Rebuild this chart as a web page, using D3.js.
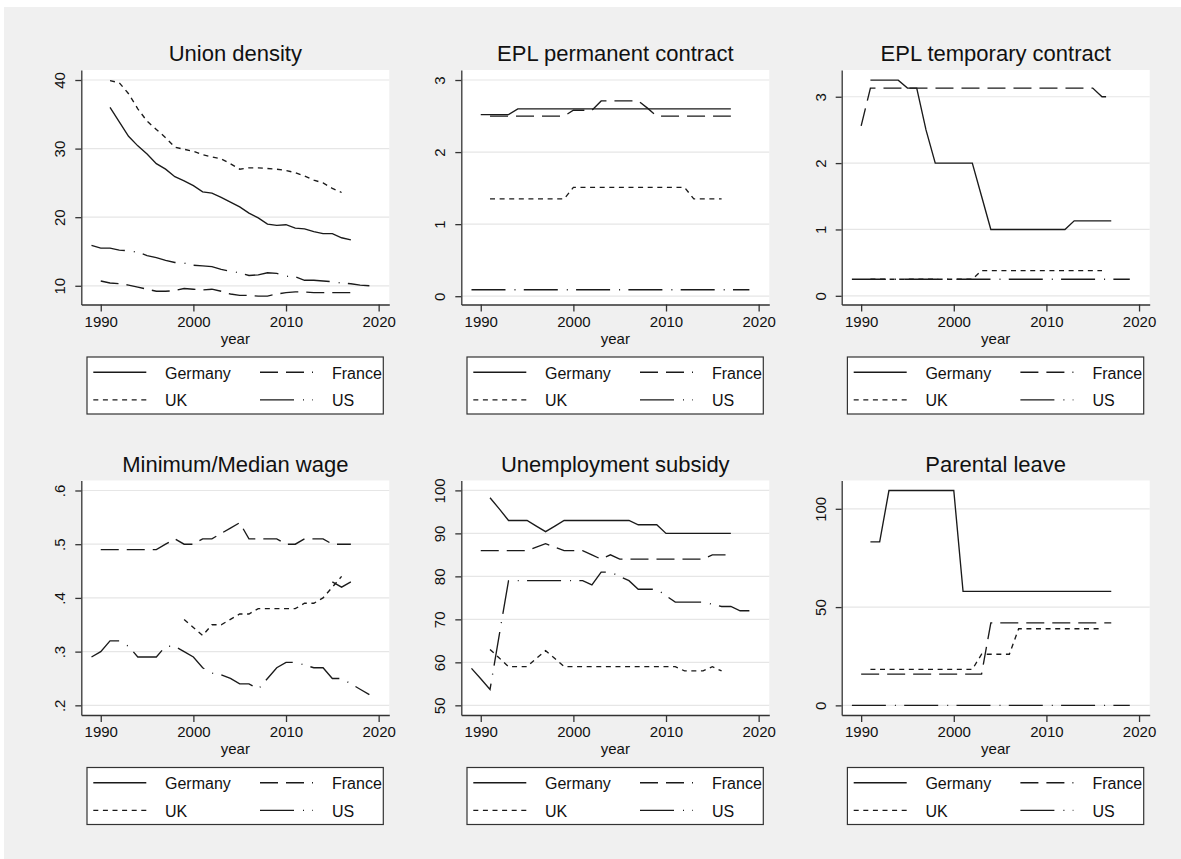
<!DOCTYPE html>
<html>
<head>
<meta charset="utf-8">
<script src="https://cdn.jsdelivr.net/npm/d3@7"></script>
<style>
  body { margin: 0; background: #fff; }
  svg { display: block; font-family: Arial, "Liberation Sans", Helvetica, sans-serif; }
</style>
</head>
<body>
<svg id="chart" width="1181" height="859"></svg>
<script>
// ---- data -------------------------------------------------------------
const countries = ["Germany", "France", "UK", "US"];
const xTicks = [1990, 2000, 2010, 2020];

// Union density (%)
const unionGermany = [36.0, 33.9, 31.8, 30.4, 29.2, 27.8, 27.0, 25.9, 25.3, 24.6, 23.7, 23.5, 22.9, 22.2, 21.5, 20.6, 19.9, 19.0, 18.8, 18.9, 18.4, 18.3, 17.9, 17.6, 17.6, 17.0, 16.7]; // 1991-2017
const unionFrance = [10.7, 10.4, 10.3, 10.1, 9.8, 9.5, 9.2, 9.2, 9.3, 9.6, 9.5, 9.4, 9.5, 9.2, 8.8, 8.6, 8.6, 8.5, 8.5, 8.8, 9.0, 9.1, 9.1, 9.0, 9.0, 9.0, 9.0, 9.0]; // 1990-2017
const unionUK = [39.9, 39.6, 38.0, 35.8, 34.0, 32.8, 31.6, 30.2, 29.9, 29.6, 29.1, 28.8, 28.5, 27.8, 27.0, 27.2, 27.2, 27.1, 27.0, 26.8, 26.5, 26.0, 25.4, 25.0, 24.2, 23.6]; // 1991-2016
const unionUS = [15.9, 15.5, 15.5, 15.2, 15.1, 14.9, 14.4, 14.1, 13.7, 13.4, 13.3, 13.0, 12.9, 12.8, 12.4, 12.1, 11.9, 11.5, 11.6, 11.9, 11.8, 11.4, 11.3, 10.8, 10.8, 10.7, 10.6, 10.4, 10.3, 10.1, 10.0]; // 1989-2019

// EPL permanent contract
const eplPermGermany = [2.52, 2.52, 2.52, 2.52, 2.60, 2.60, 2.60, 2.60, 2.60, 2.60, 2.60, 2.60, 2.60, 2.60, 2.60, 2.60, 2.60, 2.60, 2.60, 2.60, 2.60, 2.60, 2.60, 2.60, 2.60, 2.60, 2.60, 2.60]; // 1990-2017
const eplPermFrance = [2.50, 2.50, 2.50, 2.50, 2.50, 2.50, 2.50, 2.50, 2.50, 2.58, 2.58, 2.58, 2.71, 2.71, 2.71, 2.71, 2.71, 2.61, 2.50, 2.50, 2.50, 2.50, 2.50, 2.50, 2.50, 2.50, 2.50]; // 1991-2017
const eplPermUK = [1.35, 1.35, 1.35, 1.35, 1.35, 1.35, 1.35, 1.35, 1.35, 1.51, 1.51, 1.51, 1.51, 1.51, 1.51, 1.51, 1.51, 1.51, 1.51, 1.51, 1.51, 1.51, 1.35, 1.35, 1.35, 1.35]; // 1991-2016
const eplPermUS = [0.09, 0.09, 0.09, 0.09, 0.09, 0.09, 0.09, 0.09, 0.09, 0.09, 0.09, 0.09, 0.09, 0.09, 0.09, 0.09, 0.09, 0.09, 0.09, 0.09, 0.09, 0.09, 0.09, 0.09, 0.09, 0.09, 0.09, 0.09, 0.09, 0.09, 0.09]; // 1989-2019

// EPL temporary contract
const eplTempGermany = [3.25, 3.25, 3.25, 3.25, 3.13, 3.13, 2.50, 2.00, 2.00, 2.00, 2.00, 2.00, 1.50, 1.00, 1.00, 1.00, 1.00, 1.00, 1.00, 1.00, 1.00, 1.00, 1.13, 1.13, 1.13, 1.13, 1.13]; // 1991-2017
const eplTempFrance = [2.56, 3.13, 3.13, 3.13, 3.13, 3.13, 3.13, 3.13, 3.13, 3.13, 3.13, 3.13, 3.13, 3.13, 3.13, 3.13, 3.13, 3.13, 3.13, 3.13, 3.13, 3.13, 3.13, 3.13, 3.13, 3.13, 3.00, 3.00]; // 1990-2017
const eplTempUK = [0.25, 0.25, 0.25, 0.25, 0.25, 0.25, 0.25, 0.25, 0.25, 0.25, 0.25, 0.25, 0.38, 0.38, 0.38, 0.38, 0.38, 0.38, 0.38, 0.38, 0.38, 0.38, 0.38, 0.38, 0.38, 0.38]; // 1991-2016
const eplTempUS = [0.25, 0.25, 0.25, 0.25, 0.25, 0.25, 0.25, 0.25, 0.25, 0.25, 0.25, 0.25, 0.25, 0.25, 0.25, 0.25, 0.25, 0.25, 0.25, 0.25, 0.25, 0.25, 0.25, 0.25, 0.25, 0.25, 0.25, 0.25, 0.25, 0.25, 0.25]; // 1989-2019

// Minimum / median wage
const minWageGermany = [0.43, 0.42, 0.43]; // 2015-2017
const minWageFrance = [0.49, 0.49, 0.49, 0.49, 0.49, 0.49, 0.49, 0.50, 0.51, 0.50, 0.50, 0.51, 0.51, 0.52, 0.53, 0.54, 0.51, 0.51, 0.51, 0.51, 0.50, 0.50, 0.51, 0.51, 0.51, 0.50, 0.50, 0.50]; // 1990-2017
const minWageUK = [0.36, 0.345, 0.33, 0.35, 0.35, 0.36, 0.37, 0.37, 0.38, 0.38, 0.38, 0.38, 0.38, 0.39, 0.39, 0.40, 0.42, 0.44]; // 1999-2016
const minWageUS = [0.29, 0.30, 0.32, 0.32, 0.31, 0.29, 0.29, 0.29, 0.31, 0.31, 0.30, 0.29, 0.27, 0.26, 0.257, 0.25, 0.24, 0.24, 0.23, 0.25, 0.27, 0.28, 0.28, 0.275, 0.27, 0.27, 0.25, 0.25, 0.24, 0.23, 0.22]; // 1989-2019

// Unemployment subsidy (net replacement rate)
const unempGermany = [98.3, 95.7, 93.0, 93.0, 93.0, 91.7, 90.4, 91.7, 93.0, 93.0, 93.0, 93.0, 93.0, 93.0, 93.0, 93.0, 92.0, 92.0, 92.0, 90.0, 90.0, 90.0, 90.0, 90.0, 90.0, 90.0, 90.0]; // 1991-2017
const unempFrance = [86.0, 86.0, 86.0, 86.0, 86.0, 86.0, 86.8, 87.6, 86.8, 86.0, 86.0, 86.0, 85.0, 84.0, 85.0, 84.0, 84.0, 84.0, 84.0, 84.0, 84.0, 84.0, 84.0, 84.0, 84.0, 85.0, 85.0, 85.0]; // 1990-2017
const unempUK = [63.0, 61.0, 59.0, 59.0, 59.0, 60.9, 62.7, 60.9, 59.0, 59.0, 59.0, 59.0, 59.0, 59.0, 59.0, 59.0, 59.0, 59.0, 59.0, 59.0, 59.0, 58.0, 58.0, 58.0, 59.0, 58.0]; // 1991-2016
const unempUS = [58.6, 56.2, 53.7, 66.4, 79.0, 79.0, 79.0, 79.0, 79.0, 79.0, 79.0, 79.0, 79.0, 78.0, 81.0, 81.0, 80.0, 79.0, 77.0, 77.0, 77.0, 75.5, 74.0, 74.0, 74.0, 74.0, 73.5, 73.0, 73.0, 72.0, 72.0]; // 1989-2019

// Parental leave (weeks)
const leaveGermany = [83.2, 83.2, 109.3, 109.3, 109.3, 109.3, 109.3, 109.3, 109.3, 109.3, 58.0, 58.0, 58.0, 58.0, 58.0, 58.0, 58.0, 58.0, 58.0, 58.0, 58.0, 58.0, 58.0, 58.0, 58.0, 58.0, 58.0]; // 1991-2017
const leaveFrance = [15.9, 15.9, 15.9, 15.9, 15.9, 15.9, 15.9, 15.9, 15.9, 15.9, 15.9, 15.9, 15.9, 15.9, 42.0, 42.0, 42.0, 42.0, 42.0, 42.0, 42.0, 42.0, 42.0, 42.0, 42.0, 42.0, 42.0, 42.0]; // 1990-2017
const leaveUK = [18.3, 18.3, 18.3, 18.3, 18.3, 18.3, 18.3, 18.3, 18.3, 18.3, 18.3, 18.3, 26.0, 26.0, 26.0, 26.0, 39.0, 39.0, 39.0, 39.0, 39.0, 39.0, 39.0, 39.0, 39.0, 39.0]; // 1991-2016
const leaveUS = [0, 0, 0, 0, 0, 0, 0, 0, 0, 0, 0, 0, 0, 0, 0, 0, 0, 0, 0, 0, 0, 0, 0, 0, 0, 0, 0, 0, 0, 0, 0]; // 1989-2019

// ---- panel definitions --------------------------------------------------
const panels = [
  { title: "Union density", domain: [7.27, 41.46], ticks: [10, 20, 30, 40], fmt: d3.format("d"),
    series: [[1991, unionGermany], [1990, unionFrance], [1991, unionUK], [1989, unionUS]] },
  { title: "EPL permanent contract", domain: [-0.115, 3.139], ticks: [0, 1, 2, 3], fmt: d3.format("d"),
    series: [[1990, eplPermGermany], [1991, eplPermFrance], [1991, eplPermUK], [1989, eplPermUS]] },
  { title: "EPL temporary contract", domain: [-0.131, 3.403], ticks: [0, 1, 2, 3], fmt: d3.format("d"),
    series: [[1991, eplTempGermany], [1990, eplTempFrance], [1991, eplTempUK], [1989, eplTempUS]] },
  { title: "Minimum/Median wage", domain: [0.182, 0.6186], ticks: [0.2, 0.3, 0.4, 0.5, 0.6], fmt: d => d3.format(".1f")(d).replace(/^0/, ""),
    series: [[2015, minWageGermany], [1990, minWageFrance], [1999, minWageUK], [1989, minWageUS]] },
  { title: "Unemployment subsidy", domain: [47.75, 102.3], ticks: [50, 60, 70, 80, 90, 100], fmt: d3.format("d"),
    series: [[1991, unempGermany], [1990, unempFrance], [1991, unempUK], [1989, unempUS]] },
  { title: "Parental leave", domain: [-4.9, 114.4], ticks: [0, 50, 100], fmt: d3.format("d"),
    series: [[1991, leaveGermany], [1990, leaveFrance], [1991, leaveUK], [1989, leaveUS]] }
];

// line patterns: solid, long dash, short dash, long dash-dot
const dashes = [null, "18,8", "5,4.6", "34,9,1,8.3"];
const ink = "#1a1a1a";

// ---- drawing ------------------------------------------------------------
const svg = d3.select("#chart");
svg.append("rect").attr("width", 1181).attr("height", 859).attr("fill", "#fff");
svg.append("rect").attr("x", 4).attr("y", 7).attr("width", 1177).attr("height", 852).attr("fill", "#f0f0f0");

const colLeft = [81.3, 461.3, 841.7];
const rowTop = [70, 480.5];
const plotW = 308, plotH = 234.5;

panels.forEach((p, i) => {
  const x0 = colLeft[i % 3], y0 = rowTop[Math.floor(i / 3)];
  const g = svg.append("g").attr("transform", `translate(${x0},${y0})`);

  const x = d3.scaleLinear().domain([1987.9, 2021.15]).range([0, plotW]);
  const y = d3.scaleLinear().domain(p.domain).range([plotH, 0]);

  // plot region
  g.append("rect").attr("width", plotW).attr("height", plotH).attr("fill", "#fff");

  // horizontal grid lines
  g.selectAll("line.grid").data(p.ticks).join("line")
    .attr("class", "grid")
    .attr("x1", 0).attr("x2", plotW)
    .attr("y1", d => y(d)).attr("y2", d => y(d))
    .attr("stroke", "#e6e6e6").attr("stroke-width", 1.2);

  // series lines
  const line = d3.line().x(d => x(d[0])).y(d => y(d[1]));
  p.series.forEach(([start, vals], k) => {
    const pts = vals.map((v, j) => [start + j, v]);
    g.append("path").datum(pts)
      .attr("d", line)
      .attr("fill", "none")
      .attr("stroke", ink)
      .attr("stroke-width", 1.35)
      .attr("stroke-dasharray", dashes[k]);
  });

  // x axis
  const xa = g.append("g").attr("transform", `translate(0,${plotH})`)
    .call(d3.axisBottom(x).tickValues(xTicks).tickFormat(d3.format("d")).tickSize(7).tickSizeOuter(0));
  xa.select(".domain").attr("stroke", "#333").attr("stroke-width", 1.3);
  xa.selectAll(".tick line").attr("stroke", "#333").attr("stroke-width", 1.3);
  xa.selectAll(".tick text").attr("y", 22).attr("dy", 0)
    .attr("font-size", 15).attr("fill", "#111").attr("font-family", null);

  // y axis
  const ya = g.append("g")
    .call(d3.axisLeft(y).tickValues(p.ticks).tickFormat(p.fmt).tickSize(6).tickSizeOuter(0));
  ya.select(".domain").attr("stroke", "#333").attr("stroke-width", 1.3);
  ya.selectAll(".tick line").attr("stroke", "#333").attr("stroke-width", 1.3);
  ya.selectAll(".tick text")
    .attr("transform", "rotate(-90)")
    .attr("x", 0).attr("y", -16).attr("dy", 0)
    .attr("text-anchor", "middle")
    .attr("font-size", 15).attr("fill", "#111").attr("font-family", null);

  // title
  g.append("text").attr("x", plotW / 2).attr("y", -9)
    .attr("text-anchor", "middle").attr("font-size", 22).attr("fill", "#111")
    .text(p.title);

  // x axis title
  g.append("text").attr("x", plotW / 2).attr("y", plotH + 39)
    .attr("text-anchor", "middle").attr("font-size", 15).attr("fill", "#111")
    .text("year");

  // legend
  const lg = g.append("g").attr("transform", `translate(5.7,${plotH + 52.5})`);
  lg.append("rect").attr("width", 296.3).attr("height", 57)
    .attr("fill", "#fff").attr("stroke", "#333").attr("stroke-width", 1.2);
  const symX = [6.3, 173], txtX = [78, 245], rowY = [15.2, 42.8];
  countries.forEach((c, k) => {
    const col = k % 2, row = Math.floor(k / 2);
    lg.append("line")
      .attr("x1", symX[col]).attr("x2", symX[col] + 53)
      .attr("y1", rowY[row]).attr("y2", rowY[row])
      .attr("stroke", ink).attr("stroke-width", 1.35)
      .attr("stroke-dasharray", dashes[k]);
    lg.append("text").attr("x", txtX[col]).attr("y", rowY[row] + 6.3)
      .attr("font-size", 16).attr("fill", "#111").text(c);
  });
});
</script>
</body>
</html>
